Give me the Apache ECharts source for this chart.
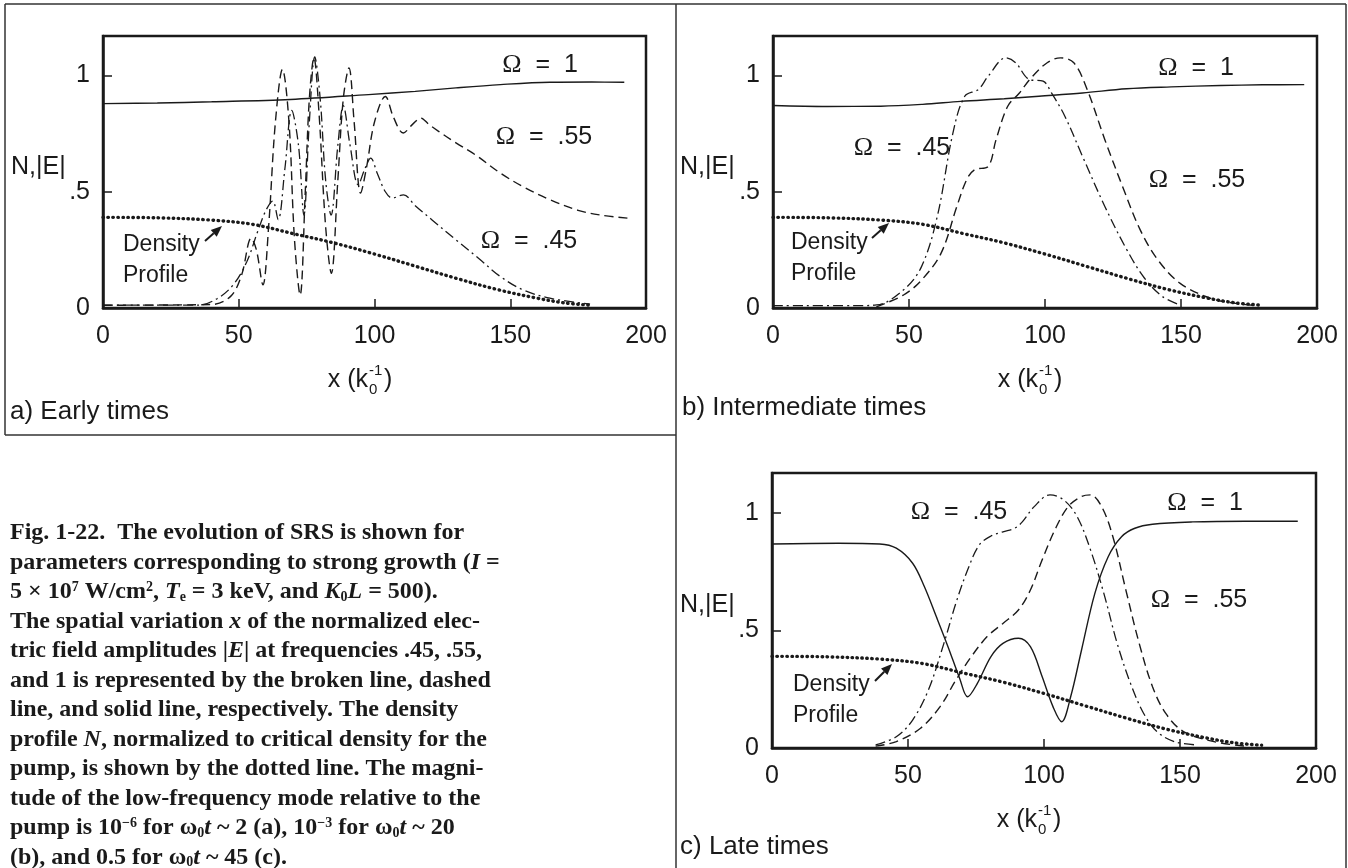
<!DOCTYPE html>
<html>
<head>
<meta charset="utf-8" />
<script src="https://cdn.jsdelivr.net/npm/echarts@6/dist/echarts.min.js"></script>
<title>SRS evolution</title>
<style>
  html, body { margin: 0; padding: 0; background: #fff; }
  #main { width: 1348px; height: 868px; }
</style>
</head>
<body>
<div id="main"></div>
<script type="text/javascript">

// x in k0^-1, y = N or |E| (normalized)
var xTicks = [0, 50, 100, 150, 200];
var yTicks = [0, 0.5, 1];

// density profile (dotted), same in the three panels
var density = [[0,0.39],[20,0.388],[40,0.378],[55,0.36],[70,0.32],[85,0.28],[100,0.232],[115,0.18],[130,0.128],[145,0.08],[160,0.042],[170,0.022],[180,0.012]];

// a) early times
var aOmega1 = [[0,0.879],[20,0.882],[40,0.887],[69,0.897],[97.8,0.918],[115,0.932],[130,0.947],[146.4,0.961],[164.6,0.971],[180,0.972],[192,0.971]];
var aOmega55 = [[0,0.012],[40,0.015],[47,0.05],[51,0.14],[54.6,0.3],[56.5,0.25],[58.9,0.1],[61,0.35],[63.5,0.8],[66.1,1.026],[68.5,0.8],[70.5,0.3],[72.6,0.056],[74.5,0.5],[76,0.9],[77.7,1.076],[79.5,0.85],[82,0.35],[84.1,0.149],[86.5,0.55],[88.5,0.9],[90.6,1.033],[92.5,0.8],[94.9,0.494],[97,0.6],[100,0.8],[104,0.91],[107,0.82],[110.6,0.753],[114,0.79],[117.1,0.817],[120,0.79],[123.6,0.76],[130,0.71],[137,0.66],[146.4,0.58],[155,0.52],[164.6,0.466],[175,0.42],[183.2,0.4],[193.5,0.386]];
var aOmega45 = [[0,0.012],[35,0.012],[42,0.04],[48,0.1],[53,0.2],[57,0.33],[60,0.42],[62.5,0.46],[64.5,0.38],[67,0.6],[69.5,0.85],[72,0.7],[74,0.4],[76,0.8],[78,1.08],[80,0.9],[82,0.55],[84,0.4],[86.5,0.7],[88.5,0.87],[91,0.7],[94,0.53],[96.5,0.6],[98.6,0.645],[101,0.58],[104,0.5],[106.6,0.473],[110.7,0.487],[115,0.44],[121.2,0.379],[130,0.293],[138.3,0.214],[146.4,0.135],[154.7,0.078],[164.6,0.042],[179.4,0.017]];

// b) intermediate times
var bOmega1 = [[0,0.871],[20,0.867],[39.6,0.868],[55,0.876],[69,0.889],[85,0.9],[97.8,0.911],[113.8,0.925],[130,0.943],[146.4,0.951],[164.6,0.957],[180,0.96],[195.3,0.961]];
var bOmega45 = [[0,0.01],[30,0.01],[38.1,0.013],[48,0.078],[54.6,0.178],[60.4,0.394],[66.1,0.75],[70.5,0.911],[75.5,0.94],[79.1,0.997],[85.6,1.076],[89.2,1.055],[94.2,0.983],[99.3,0.976],[102.4,0.925],[107.3,0.825],[113.8,0.652],[122,0.437],[130.1,0.25],[136.6,0.128],[143.2,0.049],[149.7,0.013]];
var bOmega55 = [[38,0.005],[48,0.056],[54.6,0.12],[61.8,0.236],[67.6,0.437],[71.2,0.552],[74.1,0.595],[79.1,0.609],[82,0.724],[86.3,0.868],[90.6,0.925],[94.9,0.99],[100.8,1.055],[105.7,1.076],[110.6,1.055],[115.5,0.94],[122,0.724],[128.5,0.523],[135,0.336],[141.5,0.207],[149.7,0.106],[160.8,0.042],[170.1,0.02],[178.5,0.01]];

// c) late times
var cOmega1 = [[0,0.868],[24.4,0.871],[39.6,0.868],[45.7,0.85],[51.7,0.786],[56,0.687],[60.4,0.559],[64.7,0.431],[69,0.296],[71.9,0.218],[75.5,0.275],[80.5,0.389],[84.9,0.445],[90.6,0.467],[95,0.431],[99.3,0.304],[103.3,0.176],[106.5,0.112],[109.8,0.218],[113.8,0.417],[118.7,0.658],[123.6,0.814],[128.5,0.899],[133.4,0.935],[139.9,0.952],[154.7,0.962],[173.9,0.965],[193.3,0.965]];
var cOmega45 = [[38.1,0.013],[45.7,0.048],[51.7,0.119],[57.5,0.247],[63.2,0.445],[67.6,0.616],[71.9,0.757],[76.2,0.864],[80.5,0.902],[84.9,0.92],[89.2,0.935],[92.1,0.963],[96.4,1.027],[102.2,1.077],[107.3,1.055],[112.2,0.984],[117.1,0.843],[122,0.658],[126.9,0.445],[131.8,0.275],[136.6,0.148],[141.5,0.07],[148,0.027],[156.2,0.013]];
var cOmega55 = [[38.1,0.008],[45.7,0.027],[54.6,0.084],[61.8,0.176],[67.6,0.289],[73.3,0.389],[79.1,0.474],[84.9,0.53],[90.6,0.587],[95,0.672],[99.3,0.8],[104,0.928],[108.9,1.027],[113.8,1.07],[117.1,1.077],[121.2,1.027],[125.3,0.9],[130.1,0.672],[135,0.445],[139.9,0.261],[144.7,0.148],[151.3,0.07],[162.5,0.027],[173.9,0.008]];

var captionLines = [
    'Fig. 1-22.  The evolution of SRS is shown for',
    'parameters corresponding to strong growth ({i|I} =',
    '5 × 10{sup|7} W/cm{sup|2}, {i|T}{sub|e} = 3 keV, and {i|K}{sub|0}{i|L} = 500).',
    'The spatial variation {i|x} of the normalized elec-',
    'tric field amplitudes |{i|E}| at frequencies .45, .55,',
    'and 1 is represented by the broken line, dashed',
    'line, and solid line, respectively. The density',
    'profile {i|N}, normalized to critical density for the',
    'pump, is shown by the dotted line. The magni-',
    'tude of the low-frequency mode relative to the',
    'pump is 10{sup|−6} for ω{sub|0}{i|t} ~ 2 (a), 10{sup|−3} for ω{sub|0}{i|t} ~ 20',
    '(b), and 0.5 for ω{sub|0}{i|t} ~ 45 (c).'
];

var INK = '#1a1a1a';
var SANS = 'Liberation Sans, Arial, sans-serif';
var SERIF = 'Liberation Serif, Times New Roman, serif';

var myChart = echarts.init(document.getElementById('main'));

var grids = [
    { left: 103, top: 36, width: 543, height: 272 },
    { left: 773, top: 36, width: 544, height: 272 },
    { left: 772, top: 473, width: 544, height: 275 }
];

function makeGrid(g) {
    return {
        left: g.left, top: g.top, width: g.width, height: g.height,
        show: true, borderColor: INK, borderWidth: 2.5, backgroundColor: 'transparent'
    };
}

function makeX(i) {
    return {
        gridIndex: i, type: 'value', min: xTicks[0], max: xTicks[xTicks.length - 1], interval: 50,
        axisLine: { show: true, lineStyle: { color: INK, width: 2.5 } },
        axisTick: { show: true, inside: true, length: 9, lineStyle: { color: INK, width: 1.5 } },
        axisLabel: { margin: 16, fontSize: 25, fontFamily: SANS, color: INK },
        splitLine: { show: false }
    };
}

function makeY(i) {
    return {
        gridIndex: i, type: 'value', min: 0, max: 1.17, interval: 0.5,
        axisLine: { show: true, lineStyle: { color: INK, width: 2.5 } },
        axisTick: { show: true, inside: true, length: 9, lineStyle: { color: INK, width: 1.5 } },
        axisLabel: {
            margin: 13, fontSize: 25, fontFamily: SANS, color: INK,
            formatter: function (v) {
                if (v === yTicks[0]) return '0';
                if (v === yTicks[1]) return '.5';
                if (v === yTicks[2]) return '1';
                return '';
            }
        },
        splitLine: { show: false }
    };
}

function curve(i, data, kind) {
    var ls = { color: INK, width: 1.4 };
    if (kind === 'dashed') { ls.type = [9, 5]; ls.width = 1.4; }
    if (kind === 'dashdot') { ls.type = [10, 4, 2, 4]; ls.width = 1.3; }
    if (kind === 'dotted') { ls.type = [0.5, 4.5]; ls.cap = 'round'; ls.width = 3.4; }
    return {
        type: 'line', xAxisIndex: i, yAxisIndex: i, data: data,
        showSymbol: false, smooth: 0.35, lineStyle: ls, silent: true, z: 3
    };
}

// text helpers
function txt(x, y, s, opt) {
    opt = opt || {};
    return {
        type: 'text', x: x, y: y, silent: true,
        style: {
            text: s, fill: INK,
            font: (opt.weight || 'normal') + ' ' + (opt.size || 22) + 'px ' + (opt.family || SANS),
            textAlign: opt.align || 'left', align: opt.align || 'left',
            textVerticalAlign: 'middle', verticalAlign: 'middle',
            rich: opt.rich
        }
    };
}

function omega(cx, cy, val) {
    return {
        type: 'text', x: cx, y: cy, silent: true,
        style: {
            text: '{o|Ω}{t|  =  ' + val + '}',
            textAlign: 'center', align: 'center',
            textVerticalAlign: 'middle', verticalAlign: 'middle',
            rich: {
                o: { fontFamily: SERIF, fontSize: 26, fill: INK, color: INK },
                t: { fontFamily: SANS, fontSize: 25, fill: INK, color: INK }
            }
        }
    };
}

function arrow(x1, y1, x2, y2) {
    var ang = Math.atan2(y2 - y1, x2 - x1);
    var L = 11, W = 4.5;
    var bx = x2 - L * Math.cos(ang), by = y2 - L * Math.sin(ang);
    var px = -Math.sin(ang) * W, py = Math.cos(ang) * W;
    return [
        { type: 'line', silent: true, shape: { x1: x1, y1: y1, x2: bx, y2: by }, style: { stroke: INK, lineWidth: 2 } },
        { type: 'polygon', silent: true, shape: { points: [[x2, y2], [bx + px, by + py], [bx - px, by - py]] }, style: { fill: INK } }
    ];
}

function xName(cx, cy) {
    return [
        txt(cx + 8, cy, 'x (k', { size: 25, align: 'right' }),
        txt(cx + 9, cy - 9, '-1', { size: 15 }),
        txt(cx + 9, cy + 10, '0', { size: 15 }),
        txt(cx + 24, cy, ')', { size: 25 })
    ];
}

function densityLabel(x, y, ax1, ay1, ax2, ay2) {
    return [
        txt(x, y, 'Density', { size: 23 }),
        txt(x, y + 31, 'Profile', { size: 23 })
    ].concat(arrow(ax1, ay1, ax2, ay2));
}

function border(x1, y1, x2, y2) {
    return { type: 'line', silent: true, shape: { x1: x1, y1: y1, x2: x2, y2: y2 }, style: { stroke: '#333', lineWidth: 1.5 } };
}

var graphics = [
    border(5, 4, 1346, 4),
    border(5, 4, 5, 435),
    border(5, 435, 676, 435),
    border(676, 4, 676, 868),
    border(1346, 4, 1346, 868),

    txt(11, 167, 'N,|E|', { size: 25 }),
    txt(680, 167, 'N,|E|', { size: 25 }),
    txt(680, 605, 'N,|E|', { size: 25 }),

    omega(540, 65, '1'),
    omega(544, 137, '.55'),
    omega(529, 241, '.45'),

    omega(1196, 68, '1'),
    omega(902, 148, '.45'),
    omega(1197, 180, '.55'),

    omega(959, 512, '.45'),
    omega(1205, 503, '1'),
    omega(1199, 600, '.55'),

    txt(10, 412, 'a) Early times', { size: 26 }),
    txt(682, 408, 'b) Intermediate times', { size: 26 }),
    txt(680, 847, 'c) Late times', { size: 26 })
]
.concat(xName(360, 380))
.concat(xName(1030, 380))
.concat(xName(1029, 820))
.concat(densityLabel(123, 245, 205, 241, 222, 226))
.concat(densityLabel(791, 243, 872, 238, 889, 223))
.concat(densityLabel(793, 685, 875, 681, 892, 664));

var capRich = {
    i: { fontStyle: 'italic', fontWeight: 'bold', fontFamily: SERIF, fontSize: 24 },
    sup: { fontWeight: 'bold', fontFamily: SERIF, fontSize: 14, verticalAlign: 'top', lineHeight: 20 },
    sub: { fontWeight: 'bold', fontFamily: SERIF, fontSize: 14, verticalAlign: 'bottom', lineHeight: 24 }
};
for (var k = 0; k < captionLines.length; k++) {
    graphics.push(txt(10, 533 + k * 29.5, captionLines[k], { size: 24, weight: 'bold', family: SERIF, rich: capRich }));
}

myChart.setOption({
    animation: false,
    backgroundColor: '#fff',
    grid: grids.map(makeGrid),
    xAxis: [makeX(0), makeX(1), makeX(2)],
    yAxis: [makeY(0), makeY(1), makeY(2)],
    series: [
        curve(0, density, 'dotted'),
        curve(0, aOmega1, 'solid'),
        curve(0, aOmega55, 'dashed'),
        curve(0, aOmega45, 'dashdot'),
        curve(1, density, 'dotted'),
        curve(1, bOmega1, 'solid'),
        curve(1, bOmega55, 'dashed'),
        curve(1, bOmega45, 'dashdot'),
        curve(2, density, 'dotted'),
        curve(2, cOmega1, 'solid'),
        curve(2, cOmega55, 'dashed'),
        curve(2, cOmega45, 'dashdot')
    ],
    graphic: graphics
});

</script>
</body>
</html>
